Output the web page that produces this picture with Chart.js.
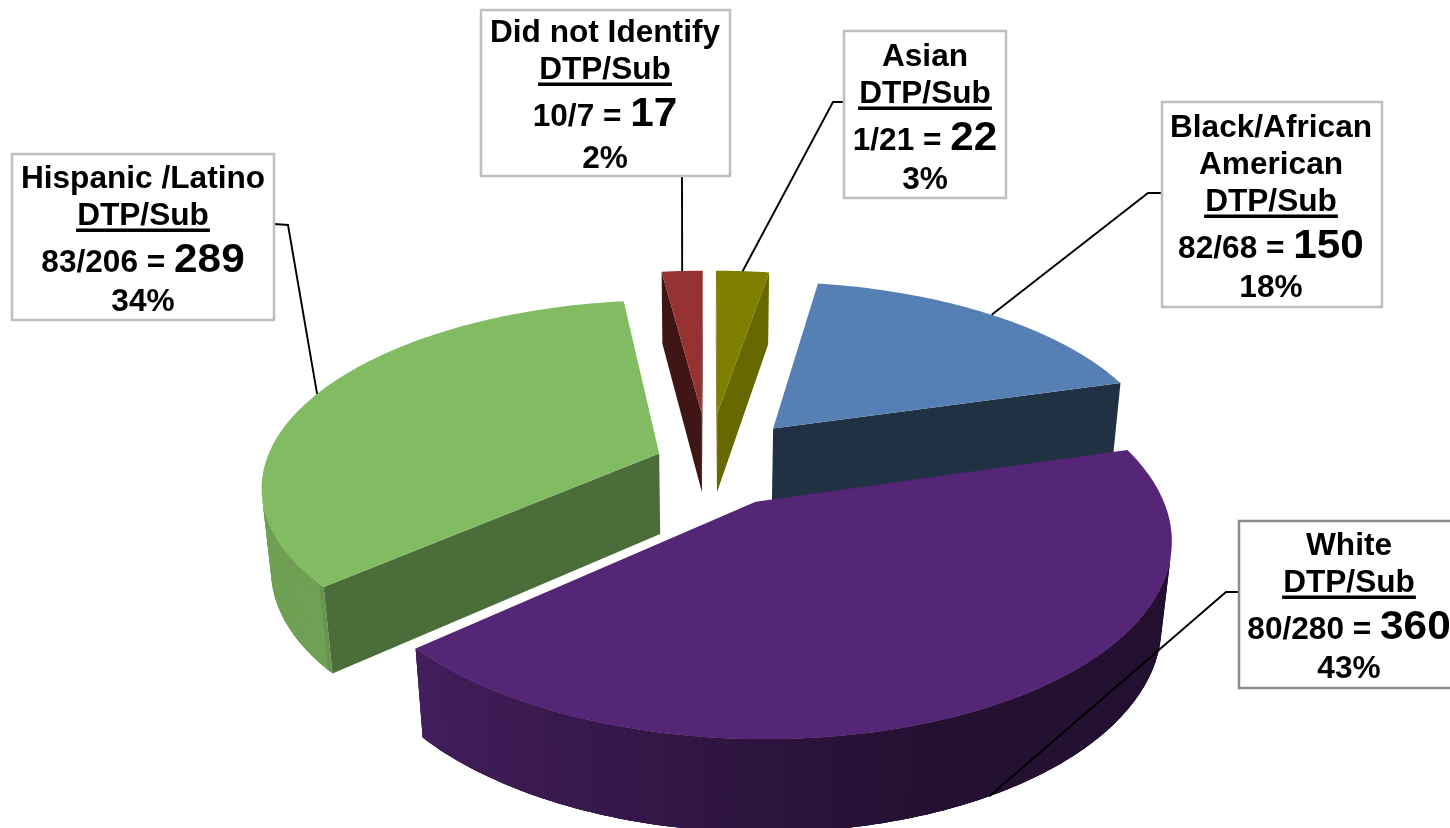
<!DOCTYPE html>
<html>
<head>
<meta charset="utf-8">
<title>DTP/Sub by ethnicity</title>
<style>html,body{margin:0;padding:0;background:#fff;overflow:hidden}canvas{display:block}</style>
<script src="https://cdn.jsdelivr.net/npm/chart.js@4"></script>
</head>
<body>
<canvas id="c" width="1450" height="828"></canvas>
<script>
// ---- data ----
const categories = ["Asian", "Black/African American", "White", "Hispanic /Latino", "Did not Identify"];
const dtp = [1, 82, 80, 83, 10];
const sub = [21, 68, 280, 206, 7];
const totals = [22, 150, 360, 289, 17];
const percents = ["3%", "18%", "43%", "34%", "2%"];
const explodePct = [28, 25.5, 24, 13.5, 28];

// ---- styles ----
const topColors = ["#7f7f00", "#5680b3", "#552675", "#82bc62", "#963232"];
const radialShade = [0.82, 0.38, 0.5, 0.58, 0.42];
const labelLines = [["Asian"], ["Black/African", "American"], ["White"], ["Hispanic /Latino"], ["Did not Identify"]];
const boxes = [
  {x:844,y:31,w:162,h:167,cx:925,tx:35,pctGap:39,border:"#bfbfbf",elbow:[[843,102],[833,102]]},
  {x:1162,y:102,w:220,h:205,cx:1271,tx:35,pctGap:39,border:"#bfbfbf",elbow:[[1162,193],[1148,193]]},
  {x:1239,y:521,w:220,h:167,cx:1349,tx:34,pctGap:39,border:"#8c8c8c",elbow:[[1238,592],[1226,592]]},
  {x:12,y:154,w:262,h:166,cx:143,tx:34,pctGap:39,border:"#bfbfbf",elbow:[[274,224],[288,225]]},
  {x:481,y:10,w:249,h:166,cx:605,tx:32,pctGap:42,border:"#bfbfbf",elbow:[[682,176]]}
];
// camera of the 3-D pie
const cam = {cx:708.5, cy:462, S:393.5, A:182, p:0.17, d:0.021, H:81, q:0.6};

function project(u, v, z) {
  const w = 1 + cam.p * v;
  if (!z) return [cam.cx + cam.S * u / w, cam.cy - cam.A * v / w];
  return [cam.cx + cam.S * u / (w + cam.d), cam.cy - cam.A * v / w + cam.H / Math.pow(w, cam.q)];
}
function shadeHex(hex, f) {
  const n = parseInt(hex.slice(1), 16);
  const c = [(n >> 16) & 255, (n >> 8) & 255, n & 255].map(x => Math.round(x * f));
  return `rgb(${c[0]},${c[1]},${c[2]})`;
}
function outerShade(deg) {          // deg clockwise from the top
  if (deg < 160) return 0.42;
  if (deg < 230) return 0.42 + (deg - 160) / 70 * 0.38;
  return 0.85;
}
function sliceGeom(arc) {
  const e = arc.options.offset / 100;
  const mid = (arc.startAngle + arc.endAngle) / 2;
  const ox = e * Math.cos(mid), oy = -e * Math.sin(mid);
  return {
    ox, oy, mid,
    pt(theta, r, z) { return project(ox + r * Math.cos(theta), oy - r * Math.sin(theta), z); }
  };
}
function fillPoly(ctx, pts, color) {
  ctx.beginPath();
  pts.forEach((p, i) => i ? ctx.lineTo(p[0], p[1]) : ctx.moveTo(p[0], p[1]));
  ctx.closePath();
  ctx.fillStyle = color;
  ctx.fill();
}
function signedArea(pts) {
  let s = 0;
  pts.forEach((p, i) => { const q = pts[(i + 1) % pts.length]; s += p[0] * q[1] - q[0] * p[1]; });
  return s;
}

const pie3d = {
  id: "pie3d",
  beforeDatasetDraw(chart) {
    const ctx = chart.ctx;
    const arcs = chart.getDatasetMeta(0).data;
    const order = arcs.map((a, i) => i).sort((i, j) => sliceGeom(arcs[j]).oy - sliceGeom(arcs[i]).oy);
    order.forEach(i => {
      const arc = arcs[i], g = sliceGeom(arc), col = topColors[i];
      const a0 = arc.startAngle, a1 = arc.endAngle;
      const n = Math.max(4, Math.ceil((a1 - a0) / 0.02));
      const rim = [];
      for (let k = 0; k <= n; k++) rim.push(a0 + (a1 - a0) * k / n);
      const apexT = g.pt(0, 0, 0), apexB = g.pt(0, 0, 1);
      // outer wall: each strip overlaps the next one so no seam shows
      for (let k = 0; k < n; k++) {
        const t = (rim[k] + rim[k + 1]) / 2;
        const deg = ((t + Math.PI / 2) * 180 / Math.PI + 360) % 360;
        const p = g.pt(rim[k], 1, 0), q = g.pt(rim[k + 1], 1, 0), pb = g.pt(rim[k], 1, 1), qb = g.pt(rim[k + 1], 1, 1);
        if (signedArea([p, q, qb, pb]) < 0) {
          const e = Math.min(k + 3, n);
          const strip = [];
          for (let m = k; m <= e; m++) strip.push(g.pt(rim[m], 1, 0));
          for (let m = e; m >= k; m--) strip.push(g.pt(rim[m], 1, 1));
          fillPoly(ctx, strip, shadeHex(col, outerShade(deg)));
        }
      }
      const radial = (p, q, pb, qb) => {
        const poly = [p, q, qb, pb];
        if (signedArea(poly) < 0) fillPoly(ctx, poly, shadeHex(col, radialShade[i]));
      };
      radial(apexT, g.pt(a0, 1, 0), apexB, g.pt(a0, 1, 1));
      radial(g.pt(a1, 1, 0), apexT, g.pt(a1, 1, 1), apexB);
      fillPoly(ctx, [apexT].concat(rim.map(t => g.pt(t, 1, 0))), col);
    });
    return false;
  },
  afterDatasetsDraw(chart) {
    const ctx = chart.ctx;
    const arcs = chart.getDatasetMeta(0).data;
    ctx.save();
    // leader lines
    arcs.forEach((arc, i) => {
      const g = sliceGeom(arc);
      const front = Math.sin(g.mid) > 0.6;
      const end = g.pt(g.mid, 1, front ? 1 : 0);
      ctx.beginPath();
      boxes[i].elbow.forEach((p, k) => k ? ctx.lineTo(p[0], p[1]) : ctx.moveTo(p[0], p[1]));
      ctx.lineTo(end[0], end[1]);
      ctx.strokeStyle = "#000"; ctx.lineWidth = 1.9; ctx.stroke();
    });
    // label boxes
    const sx = 1.02, size = 31, bigSize = 41.5;
    const font = s => `bold ${s}px "Liberation Sans", Arial, sans-serif`;
    const put = (text, cx, y) => {
      ctx.save(); ctx.translate(cx, y); ctx.scale(sx, 1);
      ctx.font = font(size); ctx.textAlign = "center"; ctx.textBaseline = "alphabetic"; ctx.fillStyle = "#000";
      ctx.fillText(text, 0, 0); ctx.restore();
    };
    boxes.forEach((b, i) => {
      ctx.fillStyle = "#fff"; ctx.fillRect(b.x, b.y, b.w, b.h);
      ctx.strokeStyle = b.border; ctx.lineWidth = 2.5; ctx.strokeRect(b.x, b.y, b.w, b.h);
      let y = b.y + b.tx;
      labelLines[i].forEach(t => { put(t, b.cx, y); y += 37; });
      put("DTP/Sub", b.cx, y);
      ctx.font = font(size);
      const uw = ctx.measureText("DTP/Sub").width * sx + 2;
      ctx.fillStyle = "#000"; ctx.fillRect(b.cx - uw / 2, y + 3.5, uw, 3.5);
      y += 46.5;
      const left = `${dtp[i]}/${sub[i]} = `, big = String(totals[i]);
      ctx.font = font(size); const w1 = ctx.measureText(left).width * sx;
      ctx.font = font(bigSize); const w2 = ctx.measureText(big).width * sx;
      ctx.save(); ctx.translate(b.cx - (w1 + w2) / 2, y); ctx.scale(sx, 1);
      ctx.fillStyle = "#000"; ctx.textAlign = "left"; ctx.textBaseline = "alphabetic";
      ctx.font = font(size); ctx.fillText(left, 0, 0);
      ctx.font = font(bigSize); ctx.fillText(big, w1 / sx, 0);
      ctx.restore();
      y += b.pctGap;
      put(percents[i], b.cx, y);
    });
    ctx.restore();
  }
};

new Chart(document.getElementById("c"), {
  type: "pie",
  data: {
    labels: categories,
    datasets: [{ data: totals, backgroundColor: topColors, offset: explodePct, borderWidth: 0 }]
  },
  options: {
    responsive: false, animation: false, rotation: 0,
    layout: { padding: 0 },
    plugins: { legend: { display: false }, tooltip: { enabled: false } }
  },
  plugins: [pie3d]
});
</script>
</body>
</html>
